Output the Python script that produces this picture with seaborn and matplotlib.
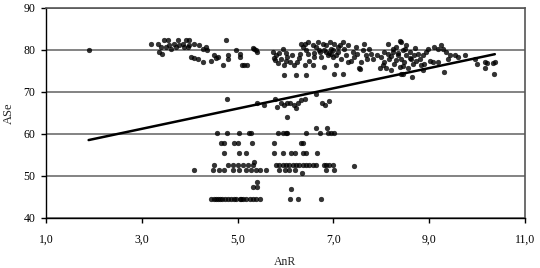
import numpy as np
import pandas as pd
import matplotlib
matplotlib.use("Agg")
import matplotlib.pyplot as plt
import seaborn as sns

# ---- data ----
outlier_x = [1.89]
outlier_y = [80.0]

ul_x = [3.19,3.33,3.40,3.36,3.43,3.47,3.54,3.50,3.57,3.61,3.68,3.71,3.75,3.78,3.85,
        3.89,3.92,3.98,3.96,3.99,4.03,4.10,4.10,4.20,4.17,4.27,4.27,4.34,4.36,4.45,
        4.51,4.55,4.60,4.69,4.75,4.79,4.79,4.97,5.04,5.06,5.09,5.14,5.19,5.35,5.32,5.40]
ul_y = [81.5,81.5,80.7,79.5,79.1,82.3,82.3,80.7,81.1,80.3,81.5,80.7,82.3,81.1,81.5,
        80.7,82.3,82.3,80.7,81.1,78.3,81.5,78.0,81.1,77.9,80.3,77.1,80.7,79.9,77.5,
        78.7,78.0,78.3,76.4,82.3,77.9,78.7,79.9,79.1,78.3,76.4,76.4,76.4,80.3,80.4,79.5]

um_x = [5.39,5.73,5.80,5.94,5.91,5.97,6.00,6.04,6.10,6.14,6.17,6.24,5.96,6.22,6.43,
        6.33,6.40,6.46,6.36,6.43,6.46,6.40,6.50,6.57,6.60,6.64,6.57,6.67,6.71,6.74,
        6.78,6.81,6.85,6.88,6.81,6.92,6.95,6.99,7.02,7.06,7.09,7.13,7.16,7.20,7.02,
        7.21,7.23,7.26,7.30,7.37,7.40,7.44,7.47,7.54,7.57,7.61,7.64,7.68,7.71,7.75,
        6.90,7.00,6.95,7.10,6.70,6.85,7.05,6.60,7.30,7.50,6.30,6.00,5.85,5.75,6.28,
        5.78,5.87,7.55]
um_y = [79.9,79.5,78.7,80.3,77.9,76.4,77.5,78.3,77.1,78.7,76.4,77.1,74.0,74.0,74.0,
        81.5,81.5,81.9,80.7,79.9,79.1,76.4,77.5,76.4,78.3,80.7,81.1,81.9,79.5,78.3,
        81.5,79.9,81.1,78.7,76.0,81.9,80.3,78.3,81.5,76.4,79.5,81.1,77.9,81.9,74.4,
        74.4,80.3,78.7,77.1,77.5,79.5,78.3,80.7,75.6,77.1,79.9,81.5,78.7,77.9,80.3,
        79.3,80.0,79.0,80.8,80.0,79.6,78.8,79.4,81.3,79.0,79.0,79.2,76.9,78.2,78.0,
        77.6,79.3,75.4]

ur_x = [7.79,7.82,7.97,8.00,8.03,8.06,8.10,8.14,8.17,8.20,8.24,8.27,8.31,8.34,8.38,
        8.41,8.41,8.41,8.45,8.45,8.48,8.52,8.52,8.55,8.59,8.62,8.65,8.66,8.69,8.73,
        8.76,8.80,8.83,8.87,8.87,8.90,8.94,8.97,9.01,9.08,9.11,9.18,9.18,9.25,9.29,
        9.30,9.36,9.39,9.43,9.53,9.60,9.74,9.95,9.99,10.16,10.16,10.37,10.35,
        8.40,8.20,8.30,8.35,8.50,8.25,8.15,8.45,8.60,8.70,8.05,7.90,10.20,10.33]
ur_y = [79.1,77.9,75.6,78.3,76.4,77.1,75.6,81.5,77.9,75.2,79.5,76.7,80.7,78.7,76.0,
        81.9,77.9,74.4,79.9,74.4,77.1,81.1,78.7,75.6,79.5,77.9,73.6,76.7,78.7,77.5,
        79.1,77.9,76.4,78.7,75.2,76.7,79.5,80.3,77.5,77.1,80.7,80.3,77.1,81.1,80.3,
        74.8,79.5,77.9,78.7,78.7,78.3,78.7,77.9,76.7,77.1,75.6,77.1,74.4,
        82.2,78.5,77.6,79.2,80.2,80.2,79.0,76.3,78.2,80.5,79.6,78.9,76.8,76.8]

mid_x = [4.78,5.40,5.56,5.78,5.82,5.91,5.97,6.03,6.10,6.17,6.22,6.26,6.03,6.33,6.40,
         6.64,6.77,6.83,6.91]
mid_y = [68.3,67.3,66.9,68.3,66.5,67.3,67.0,67.3,67.3,66.9,66.1,67.5,64.1,68.0,68.3,
         69.5,67.3,66.9,67.9]

low_x = [4.57,4.78,5.02,5.23,5.27,5.85,5.94,6.00,6.04,6.42,6.63,6.71,6.87,6.88,6.96,7.01,
         4.65,4.72,4.93,5.00,5.30,5.76,6.33,6.36,
         4.71,5.02,5.18,5.77,5.94,6.12,6.19,6.36,6.43,6.66,
         4.50,4.79,4.90,5.00,5.11,5.21,5.32,5.35,5.81,5.87,5.94,6.01,6.08,6.15,6.22,
         6.29,6.36,6.43,6.50,6.57,6.64,6.80,6.85,6.90,6.99,
         4.08,4.48,4.62,4.71,4.90,5.02,5.18,5.28,5.39,5.46,5.60,5.87,5.99,6.08,6.19,
         6.34,6.85,7.01,7.42,
         5.40,5.32,5.40,6.12,
         4.45,4.50,4.55,4.60,4.68,4.79,4.97,5.04,5.11,5.18,5.25,5.32,5.39,5.46,
         4.64,4.73,4.86,4.92,5.08,
         6.10,6.26,6.75]
low_y = [60.3,60.3,60.3,60.3,60.3,60.3,60.3,60.3,60.3,60.3,61.4,60.3,61.5,60.3,60.3,60.3,
         57.8,57.8,57.8,57.8,57.8,57.8,57.8,57.8,
         55.4,55.4,55.4,55.4,55.4,55.4,55.4,55.4,55.4,55.4,
         52.6,52.6,52.6,52.6,52.6,52.6,52.6,53.3,52.6,52.6,52.6,52.6,52.6,52.6,52.6,
         52.6,52.6,52.6,52.6,52.6,52.6,52.6,52.6,52.6,52.6,
         51.4,51.4,51.4,51.4,51.4,51.4,51.4,51.4,51.4,51.4,51.4,51.4,51.4,51.4,51.4,
         50.8,51.4,51.4,52.4,
         48.5,47.5,47.5,46.9,
         44.5,44.5,44.5,44.5,44.5,44.5,44.5,44.5,44.5,44.5,44.5,44.5,44.5,44.5,
         44.5,44.5,44.5,44.5,44.5,
         44.5,44.5,44.5]

xticks = [1, 3, 5, 7, 9, 11]
xtick_labels = ["1,0", "3,0", "5,0", "7,0", "9,0", "11,0"]
yticks = [40, 50, 60, 70, 80, 90]

df = pd.DataFrame({
    "AnR": outlier_x + ul_x + um_x + ur_x + mid_x + low_x,
    "ASe": outlier_y + ul_y + um_y + ur_y + mid_y + low_y,
})

# ---- style ----
sns.set_theme(style="white")
plt.rcParams["font.family"] = ["Liberation Serif", "DejaVu Serif"]

fig = plt.figure(figsize=(5.4, 2.68), dpi=100)
ax = fig.add_axes([46/540, 1 - 218/268, (525 - 46)/540, (218 - 8)/268])

sns.regplot(data=df, x="AnR", y="ASe", ax=ax, ci=None,
            scatter_kws=dict(s=12, color="black", edgecolors="black", linewidths=0.3),
            line_kws=dict(color="black", linewidth=1.8))

ax.set_xlim(1, 11)
ax.set_ylim(40, 90)
ax.set_xticks(xticks)
ax.set_xticklabels(xtick_labels)
ax.set_yticks(yticks)
ax.yaxis.grid(True, color="#7a7a7a", linewidth=1.3)
ax.xaxis.grid(False)
ax.set_axisbelow(True)

for side in ["left", "bottom"]:
    ax.spines[side].set_color("black")
    ax.spines[side].set_linewidth(1.0)
for side in ["top", "right"]:
    ax.spines[side].set_color("#555555")
    ax.spines[side].set_linewidth(1.2)

ax.tick_params(axis="both", which="major", direction="out", length=3.6, width=1.0,
               color="black", labelsize=8.5, labelcolor="black")
ax.tick_params(axis="x", pad=8)
ax.tick_params(axis="y", pad=4)
ax.tick_params(bottom=True, left=True)

ax.set_xlabel("AnR", fontsize=8.5, labelpad=7)
ax.set_ylabel("ASe", fontsize=9, labelpad=6)

fig.savefig("out.png", dpi=100)
